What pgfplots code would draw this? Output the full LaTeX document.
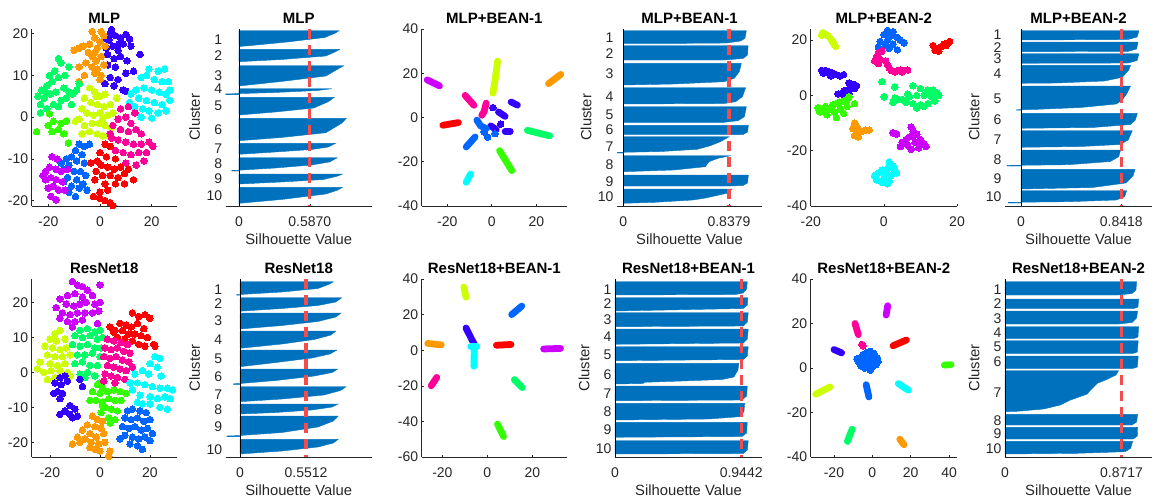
\documentclass[border=0pt]{standalone}
\usepackage{fontspec}
\setmainfont{Liberation Sans}
\usepackage{pgfplots}
\pgfplotsset{compat=1.18}

% hsv(10) cluster colours
\definecolor{c1}{rgb}{1,0,0}
\definecolor{c2}{rgb}{1,0.6,0}
\definecolor{c3}{rgb}{0.8,1,0}
\definecolor{c4}{rgb}{0.2,1,0}
\definecolor{c5}{rgb}{0,1,0.4}
\definecolor{c6}{rgb}{0,1,1}
\definecolor{c7}{rgb}{0,0.4,1}
\definecolor{c8}{rgb}{0.2,0,1}
\definecolor{c9}{rgb}{0.8,0,1}
\definecolor{c10}{rgb}{1,0,0.6}
\definecolor{silblue}{rgb}{0,0.447,0.741}
\definecolor{meanred}{rgb}{0.95,0.3,0.3}
\definecolor{axgray}{rgb}{0.15,0.15,0.15}

\newcommand{\tk}{\fontsize{14}{16}\selectfont}
\newcommand{\lb}{\fontsize{14.8}{17}\selectfont}
\newcommand{\tl}{\fontsize{15}{18}\selectfont\bfseries}

\newcommand{\pts}[2]{\addplot[only marks, mark=*, mark size=3.3pt, color=#1, mark options={line width=0pt}] coordinates {#2};}
\newcommand{\seg}[2]{\addplot[color=#1, line width=6.8pt, line cap=round, line join=round] coordinates {#2};}
\newcommand{\blk}[1]{\addplot[fill=silblue, draw=silblue, line width=0.4pt] coordinates {#1} -- cycle;}
\newcommand{\meanline}[3]{\addplot[meanred, line width=3.2pt, dash pattern=on 10pt off 6pt] coordinates {(#1,#2) (#1,#3)};}
\newcommand{\zeroline}[2]{\addplot[black, line width=0.7pt] coordinates {(0,#1) (0,#2)};}
\newcommand{\ttl}[1]{\node[font=\tl, anchor=base, inner sep=0pt] at ([yshift=6pt]axis description cs:0.5,1) {#1};}

\pgfplotsset{
  panel/.style={scale only axis, anchor=south west,
    axis x line*=bottom, axis y line*=left,
    axis line style={-, draw=axgray, line width=0.6pt},
    tick align=inside, major tick length=2.5pt,
    tick style={axgray, line width=0.6pt},
    ticklabel style={font=\tk, text=axgray},
    xticklabel style={yshift=-7.5pt},
    clip=false},
  sil/.style={panel, y dir=reverse,
    y axis line style={draw=none}, ytick style={draw=none},
    yticklabels={1,2,3,4,5,6,7,8,9,10},
    xlabel={Silhouette Value}, ylabel={Cluster},
    xlabel style={font=\lb, text=axgray, at={(axis description cs:0.5,0)}, anchor=center, yshift=-33pt},
    ylabel style={font=\lb, text=axgray, at={(axis description cs:0,0.5)}, anchor=center, yshift=31pt}},
  row1/.style={height=177pt},
  row2/.style={height=178pt},
}

\begin{document}
\begin{tikzpicture}
\useasboundingbox (0,0) rectangle (1152pt,-500pt);

% ---------------- row 1 ----------------
\begin{axis}[panel, row1, at={(31.7pt,-206pt)}, width=145pt,
  xmin=-26.4, xmax=29.7, ymin=-21.3, ymax=21.1,
  xtick={-20,0,20}, xticklabels={-20,0,20},
  ytick={-20,-10,0,10,20}, yticklabels={-20,-10,0,10,20}]
\ttl{MLP}
\pts{c8}{(4.5,21) (2,19) (3.5,18.5) (6,19.5) (8,19) (10,19.8) (11.5,18.7) (12,17) (9,17.5) (5,17) (2.5,16.5) (7,16) (3,15) (5.5,14) (8,14.5) (10.5,13.5) (15.5,15) (3,12.5) (6,12) (10,10.5) (13,11) (4,9.5) (2,8) (7,9) (9,6.5) (10,6.2) (5.5,7.5) (4,20) (7.5,17.5)}
\pts{c2}{(-3,20.5) (0.5,20.5) (-2,19) (1.5,19.5) (0,18) (2,17) (-1,16.5) (-8,16.5) (-10,16) (-6.5,17) (-4.5,15.5) (-3,14.5) (-1.5,13.5) (0.5,14.5) (-5.5,13) (-3,12) (-1,11.5) (-8,12) (0.5,10) (-2,10.5) (0,9) (-6,10) (-8,8.5) (1.5,12.5) (-4,17.5) (-2,15.5)}
\pts{c5}{(-16,14) (-15,13) (-12,12) (-13.5,10) (-16,9.5) (-18.5,8.5) (-20.5,7.5) (-22.5,6.5) (-24,5) (-21.5,4.5) (-23,3) (-19,5.5) (-17,6) (-14,7) (-12,6) (-10.5,5.5) (-9,6.5) (-8,8) (-15,4) (-18,3) (-20.5,2) (-23,1) (-13,4.5) (-11,3) (-16,2.5) (-17.5,11) (-19.5,10) (-21,6)}
\pts{c4}{(-24.5,-3.5) (-19.5,0.8) (-18,-1) (-16,-3) (-14,-4) (-18.5,-3.5) (-12.2,-6.2) (-15,-1.5) (-13,-1) (-20,-2)}
\pts{c3}{(-4,7) (-2,6) (0,5) (2,5.5) (-6,4.5) (-3.5,3.5) (-1,3) (1.5,2.5) (4,3) (6.5,4.5) (-7,2) (-5,1) (-2.5,0.5) (0,1) (3,0.5) (5,1) (-8,-0.5) (-6,-2) (-3,-1.5) (-0.5,-1.5) (2,-2) (4.5,-2.5) (-4,-3.5) (-1,-4) (1,-4.5) (3.5,-4.5) (-7,-4) (-9.5,-1) (-1.5,5) (1,-0.5)}
\pts{c6}{(19,11.5) (22.5,11) (25,11.5) (16,9.5) (18,10) (21,9) (24,8.5) (26.5,8.5) (14,6.5) (17,7) (20,6.5) (23,6) (25.5,5.5) (12,5.5) (15,4.5) (18,4) (21,3.5) (24,3) (27,4) (13.5,2.5) (16.5,2) (19,1.5) (22.5,1) (25.5,1.5) (16,0) (20,-0.2) (11.5,3.5) (27,6.5)}
\pts{c10}{(8,2) (11,2.5) (13.5,1) (7,-0.5) (10,0) (12,-1.5) (5,-2) (8,-3) (11,-3.5) (14,-3) (16,-4) (4.5,-5) (7,-5.5) (10,-6) (13,-6.5) (16,-6.5) (19,-6) (6,-8) (9,-8.5) (12,-9) (15,-8.5) (18,-8.5) (10,-11) (14,-11.5) (17,-10.5) (4,-4) (20.5,-7)}
\pts{c1}{(2,-6.5) (4,-7) (0,-8.5) (2.5,-9.5) (-1,-10.5) (6,-10) (0.5,-11.5) (3,-12) (5.5,-12.5) (8,-12) (-1.5,-13) (1,-14) (4,-14) (7,-14.5) (9.5,-13.5) (11,-12.5) (-2,-15) (2,-16) (6,-16) (9.5,-16) (0,-18) (3,-17.5) (-2.5,-19) (0,-19.5) (2,-20) (4,-20.5) (5,-21.2) (13,-15) (-3.5,-11)}
\pts{c7}{(-8,-6.5) (-6,-7) (-9.5,-8) (-7,-9) (-11,-9.5) (-13,-10) (-9,-10.5) (-6,-11) (-12,-11.5) (-14,-12.5) (-10,-13) (-7.5,-13) (-5.5,-14) (-12.5,-14.5) (-9,-15) (-6.5,-16) (-11,-16.5) (-8,-17) (-5,-17.5) (-9.5,-19) (-12,-18) (-15,-11) (-4,-6.5) (-14,-15.5)}
\pts{c9}{(-18.5,-9.5) (-16.5,-10) (-19.5,-12) (-17,-12.5) (-21,-13) (-15,-13) (-19,-14.5) (-17,-15) (-21,-15) (-14.5,-15.5) (-18,-16.5) (-20,-17) (-16,-17.5) (-13.5,-17.5) (-19,-19) (-17,-19.8) (-22,-14) (-12.5,-12.5)}
\end{axis}

\begin{axis}[sil, row1, at={(225.7pt,-206pt)}, width=146pt,
  xmin=-0.11, xmax=1.1, ymin=29, ymax=206,
  xtick={0,0.587}, xticklabels={0,0.5870},
  ytick={39.3,56,76,88.5,106,129.3,149,164,179,195.3}]
\ttl{MLP}
\blk{(0,30.7) (0.83,30.7) (0.80,33) (0.71,37.5) (0.40,42) (0.10,45.5) (0,46.5)}
\blk{(0,49.3) (0.835,49.3) (0.80,51.7) (0.72,56) (0.35,59.5) (0,61.7)}
\blk{(0,65.7) (0.87,65.7) (0.83,68.3) (0.72,76) (0.35,81.5) (0,86)}
\blk{(0,88.7) (0.77,88.7) (0.65,90.5) (0.3,92.5) (0,93.6) (-0.11,93.9) (-0.11,94.6) (0,94.6)}
\blk{(0,97.3) (0.79,97.3) (0.74,101.7) (0.62,108) (0.3,112) (0,115)}
\blk{(0,118.3) (0.89,118.3) (0.85,123.3) (0.72,132.7) (0.35,137.5) (0,140.7)}
\blk{(0,143.3) (0.80,143.3) (0.74,147) (0.6,149.5) (0.3,152) (0,154.3)}
\blk{(0,157.7) (0.815,157.7) (0.75,162) (0.6,165) (0.3,168) (0,170.2) (-0.06,170.4) (-0.06,171) (0,171)}
\blk{(0,174) (0.857,174) (0.82,176) (0.7,179.5) (0.35,182) (0,184)}
\blk{(0,187.3) (0.857,187.3) (0.82,190) (0.72,194) (0.35,199.5) (0,203.3)}
\zeroline{29}{206}
\meanline{0.587}{29}{206}
\end{axis}

\begin{axis}[panel, row1, at={(421.7pt,-206pt)}, width=145.3pt,
  xmin=-31.5, xmax=33.8, ymin=-40, ymax=40,
  xtick={-20,0,20}, xticklabels={-20,0,20},
  ytick={-40,-20,0,20,40}, yticklabels={-40,-20,0,20,40}]
\ttl{MLP+BEAN-1}
\seg{c9}{(-29,17) (-23.5,14.3)}
\seg{c3}{(2.6,25.5) (1.5,17) (0.5,11)}
\seg{c2}{(25.5,15.3) (31,19.5)}
\seg{c10}{(-12,10) (-8,5.5)}
\seg{c10}{(-2.5,6.5) (-3.5,2.5) (-4.5,1)}
\seg{c8}{(8.7,7) (11.5,5.6)}
\seg{c8}{(6,-6.3) (8.3,-6.3)}
\seg{c8}{(3,2.5) (6,0.5)}
\seg{c8}{(-0.5,-3.8) (2,-5.5)}
\pts{c8}{(0.5,4.5) (4,-3)}
\seg{c7}{(-7.5,-8.8) (-11.5,-13.3)}
\seg{c7}{(-6.7,-1.2) (-5,-3.8) (-2.5,-5)}
\pts{c7}{(-1.9,-8.8) (1.5,-7.3) (-3.5,-6.5)}
\seg{c1}{(-22,-3.5) (-15,-2.3)}
\seg{c5}{(16,-5.8) (26,-8.3)}
\seg{c4}{(3.5,-15) (9,-24)}
\seg{c6}{(-9.5,-25.5) (-11.5,-29.3)}
\end{axis}

\begin{axis}[sil, row1, at={(617pt,-206pt)}, width=145pt,
  xmin=-0.05, xmax=1.1, ymin=29, ymax=206,
  xtick={0,0.8379}, xticklabels={0,0.8379},
  ytick={37.3,53.3,74,96.7,115,130,146.7,164.3,181.7,196.7}]
\ttl{MLP+BEAN-1}
\blk{(0,30.7) (0.976,30.7) (0.965,38.3) (0.93,41) (0.82,43) (0.5,43.3) (0,43.3)}
\blk{(0,45.7) (0.99,45.7) (0.985,55) (0.95,58.5) (0.8,60) (0,60)}
\blk{(0,63.3) (0.936,63.3) (0.92,71.7) (0.88,78.3) (0.8,81.7) (0.4,84) (0,85)}
\blk{(0,87.7) (0.97,87.7) (0.945,96.7) (0.89,101.7) (0.8,103.5) (0,104)}
\blk{(0,106.7) (0.976,106.7) (0.96,116.7) (0.91,120.7) (0.8,122.3) (0,122.3)}
\blk{(0,125.3) (0.992,125.3) (0.985,132) (0.95,134.5) (0.85,134.7) (0,134.7)}
\blk{(0,136.7) (0.84,136.7) (0.77,141.7) (0.69,145.7) (0.585,149.3) (0.3,151.5) (0,152.3) (-0.05,152.5) (-0.05,153) (0,153)}
\blk{(0,155.7) (0.85,155.7) (0.75,158.3) (0.68,161.7) (0.65,166.7) (0.4,170) (0,171.7)}
\blk{(0,175) (0.992,175) (0.985,183) (0.95,185.5) (0.85,186) (0,186)}
\blk{(0,189) (0.864,189) (0.82,193.3) (0.64,198.3) (0.55,200) (0.25,202.3) (0,203.3)}
\zeroline{29}{206}
\meanline{0.8379}{29}{206}
\end{axis}

\begin{axis}[panel, row1, at={(810.7pt,-206pt)}, width=146.3pt,
  xmin=-20, xmax=20, ymin=-40, ymax=24,
  xtick={-20,0,20}, xticklabels={-20,0,20},
  ytick={-40,-20,0,20}, yticklabels={-40,-20,0,20}]
\ttl{MLP+BEAN-2}
\pts{c3}{(-16.8,22.5) (-16,22.2) (-15.2,21.5) (-14.5,20.5) (-14,19.5) (-13.5,18.5) (-13.2,17.8) (-17,21.8)}
\pts{c7}{(1,23.5) (2.5,23) (0,22) (2,21.5) (3.5,21) (4.5,20) (5.5,19) (1,20) (-1,19.5) (0.5,18) (2.5,18.5) (-1.5,17.5) (3.7,16.5) (1.5,17)}
\pts{c1}{(13.5,18) (14.5,17) (15.5,17.5) (16.5,18.5) (17.5,19) (18,19.5) (15,16) (14,16.3) (17,18) (16,17.8)}
\pts{c10}{(-1.5,15.5) (-0.5,16) (-2,14) (-1,13) (0.5,12.5) (-2.5,12.5) (-1.5,11.5) (1,11) (1.5,10) (2,9) (3.5,8.8) (4.5,9.2) (5.5,9) (6.5,9.2) (3,8.5) (5,8.5)}
\pts{c8}{(-17,9) (-16,9) (-15,8.5) (-14,8) (-13,7.5) (-12,7) (-11,7.5) (-16.5,8) (-14.5,7) (-9.5,4.5) (-8.5,4) (-7.5,3.5) (-9,3) (-10,2) (-11,1.5) (-12.5,0.5) (-11,0.2) (-9.5,0.5) (-8,2.5)}
\pts{c4}{(-18,-4.5) (-17,-5.5) (-16,-4) (-15,-5) (-14,-3.5) (-13,-3) (-12,-2.5) (-11,-2) (-10,-1.5) (-17.5,-6) (-15.5,-7) (-13.5,-6) (-12,-5) (-11,-6.5) (-10,-4) (-13,-8) (-16,-6) (-8,-3) (-9.5,-0.5)}
\pts{c5}{(8,3.5) (10,2.5) (12,2) (13.5,2) (14.5,1) (15,0) (13,-0.5) (11,0) (9,0) (7,-0.5) (5,-1.5) (6,-2.5) (8,-3) (10,-3.5) (12,-3) (14,-2) (9,-4.5) (11,-4) (3,-1) (2.5,-2.5) (0,-0.5) (3,3) (-0.5,5) (4,-1.5) (6.5,0.5) (12.5,0.5)}
\pts{c2}{(-8,-10) (-7.5,-11) (-8.5,-12) (-7.5,-13) (-8,-14.5) (-7,-15) (-6,-13) (-5,-12.5) (-4,-12.5) (-7,-12)}
\pts{c9}{(2.5,-13.5) (3.5,-14) (7.5,-11.5) (8,-13) (9,-14) (7,-15) (6,-16) (5,-17) (4.5,-18.5) (6.5,-18) (8.5,-17) (10,-16) (11,-17.5) (11.5,-18.5) (9.5,-19) (7.5,-19.5) (8,-15) (10,-18)}
\pts{c6}{(1.5,-24) (2.5,-25.5) (3,-27) (1,-26.5) (-0.5,-27) (-1.5,-28) (0.5,-28.5) (2,-29) (-2.5,-29) (0,-30) (1.5,-31) (-0.5,-31.5) (1,-32) (-2,-30.5) (3.5,-28)}
\end{axis}

\begin{axis}[sil, row1, at={(1005pt,-206pt)}, width=147pt,
  xmin=-0.135, xmax=1.1, ymin=29, ymax=206,
  xtick={0,0.8418}, xticklabels={0,0.8418},
  ytick={35,47.3,58.3,74,98.3,120,139.3,159.3,178.3,196.7}]
\ttl{MLP+BEAN-2}
\blk{(0,30.7) (0.99,30.7) (0.975,37) (0.9,39.5) (0,40)}
\blk{(0,42) (0.983,42) (0.97,49) (0.9,51.3) (0,51.7)}
\blk{(0,53.7) (0.99,53.7) (0.975,60.5) (0.9,63) (0,63.3)}
\blk{(0,65.3) (0.92,65.3) (0.905,70) (0.85,77.3) (0.7,81) (0.3,83) (0,83.3)}
\blk{(0,86) (0.92,86) (0.89,93.3) (0.85,100) (0.8,104) (0.5,107.5) (0.1,109.5) (0,109.6) (-0.04,109.8) (-0.04,110.2) (0,110.2)}
\blk{(0,113.3) (0.977,113.3) (0.96,120) (0.92,124.5) (0.6,127.5) (0,128.3)}
\blk{(0,130.7) (0.935,130.7) (0.9,140) (0.83,144.5) (0.5,146.5) (0,147.3)}
\blk{(0,150) (0.836,150) (0.82,156.7) (0.75,161.5) (0.4,164.7) (0,165.3) (-0.12,165.5) (-0.12,166) (0,166)}
\blk{(0,169.3) (0.958,169.3) (0.94,176) (0.88,183) (0.6,187.5) (0,189)}
\blk{(0,190.7) (0.887,190.7) (0.87,196.7) (0.8,200) (0.4,201.7) (0,202.2) (-0.107,202.4) (-0.107,203) (0,203)}
\zeroline{29}{206}
\meanline{0.8418}{29}{206}
\end{axis}

% ---------------- row 2 ----------------
\begin{axis}[panel, row2, at={(31.7pt,-457pt)}, width=145pt,
  xmin=-27.3, xmax=30.7, ymin=-24.2, ymax=26.7,
  xtick={-20,0,20}, xticklabels={-20,0,20},
  ytick={-20,-10,0,10,20}, yticklabels={-20,-10,0,10,20}]
\ttl{ResNet18}
\pts{c9}{(-11,26) (-9,25) (-7,24.5) (-5,23.5) (-3,22) (0,25) (-13,22) (-10,22.5) (-7,21.5) (-16,21) (-13.5,19.5) (-10.5,19) (-8,19.5) (-5.5,20) (-2,19.5) (0,20) (-17.5,18.5) (-15,17) (-12,16.5) (-9,17) (-6,17) (-3,17) (-16,15.5) (-13,14.5) (-10,14.5) (-7,15) (-1,14) (-11,13) (-0.5,17.5)}
\pts{c1}{(13,17) (15.5,16) (18,16.5) (20,15.5) (8,14) (10.5,13.5) (12.5,13) (15,14) (17.5,12.5) (4,13) (6,12) (9,12) (11.5,11) (14,11) (16.5,10.5) (19,10) (21.5,8) (7,10) (10,9.5) (13,9) (15.5,8) (18,7.5) (22,7.5) (11,8) (5.5,11.5)}
\pts{c3}{(-18,11) (-16,12) (-20,9.5) (-17.5,9) (-14,9.5) (-22,7.5) (-19,7) (-16,6.5) (-13.5,7) (-21,5) (-18,4.5) (-15,4.5) (-12,5) (-24,3) (-20,2.5) (-17,2) (-14,2.5) (-25,1) (-22.5,0) (-19.5,0.5) (-16,0.5) (-13,0) (-21,-2) (-18,-1.5) (-12,-1)}
\pts{c5}{(-8,12) (-5,12.5) (-2,11.5) (0,12) (-10,10.5) (-7,10) (-4,10.5) (-1,9.5) (1,10) (-11,8) (-8,7.5) (-5,8) (-2,7) (0.5,7) (-9,5) (-6,5) (-3,5.5) (0,4.5) (-10,2.5) (-7,3) (-4,2) (-1,2) (-5,0) (-2,-1) (0,-3) (-8,-0.5) (-6,-1.5)}
\pts{c10}{(3,9.5) (5.5,9) (8.5,8.5) (11,8) (2,7) (4.5,6.5) (7,7) (9.5,6) (12,5.5) (1.5,4.5) (4,4) (6.5,4.5) (9,3.5) (11.5,3) (3,2) (5.5,1.5) (8,1) (10.5,0.5) (13,1.5) (2,-0.5) (4.5,-1) (7,-1.5) (10,-2) (1.5,-2.5) (6,-3)}
\pts{c6}{(22,4.5) (24,4) (20,2.5) (23,1.5) (17,0.5) (14,-0.5) (19.5,-0.5) (24.5,-1) (12,-3) (15,-3) (18,-3.5) (21,-4) (24,-4.5) (27,-4.5) (29,-5) (16,-6.5) (13,-5) (20,-7) (23,-7.5) (26,-7) (28,-7.5) (17,-9) (20,-9) (24,-10) (27,-10.5) (15,-8.5)}
\pts{c8}{(-16,-1.5) (-14,-1) (-18,-3) (-15.5,-3.5) (-13,-2.5) (-8,-2) (-7,-4) (-17,-5.5) (-15,-6) (-18.5,-6) (-16,-7.5) (-12,-9.5) (-10,-10.5) (-14,-11) (-12,-12) (-9,-12.5) (-16,-12) (-11,-13)}
\pts{c4}{(-1,-3.5) (1,-4.5) (-3,-5.5) (0,-6) (3,-5.5) (5.5,-5) (8,-5.5) (10.5,-6) (-4,-8) (-1.5,-8) (1,-8.5) (3.5,-7.5) (6,-8) (8.5,-8) (2,-10) (4.5,-10.5) (7,-11) (0.5,-11.5) (3.5,-13) (6,-13.5) (4,-14.5) (1,-9.5)}
\pts{c2}{(-3,-12.5) (-1,-13.5) (1,-14) (-5,-15) (-2,-15.5) (0.5,-16) (-7,-16.5) (-4,-17.5) (-1.5,-18.5) (1.5,-17.5) (-9,-18.5) (-6,-19) (-3.5,-20) (-0.5,-20.5) (2,-20) (-11,-20.5) (-2,-22) (0,-22.5) (4,-22.5) (3.5,-24) (-4,-21.5) (-8,-20)}
\pts{c7}{(11,-11) (13,-10.5) (16,-11) (18.5,-11.5) (10,-13) (12.5,-13.5) (15,-13) (17.5,-14) (20,-13.5) (9,-15.5) (11.5,-16) (14,-15.5) (16.5,-16.5) (19,-16) (21,-17.5) (10,-18) (13,-18.5) (15.5,-19) (18,-18.5) (20,-19.5) (12,-20.5) (15,-21) (17,-22) (8,-19)}
\end{axis}

\begin{axis}[sil, row2, at={(225.7pt,-457pt)}, width=146pt,
  xmin=-0.12, xmax=1.1, ymin=279, ymax=457,
  xtick={0,0.5512}, xticklabels={0,0.5512},
  ytick={289.3,304,320.7,340,358.3,376.7,395,409.3,426.7,449.3}]
\ttl{ResNet18}
\blk{(0,281.7) (0.78,281.7) (0.75,284) (0.65,288.5) (0.35,292) (0,294.5) (-0.03,294.7) (-0.03,295.2) (0,295.2)}
\blk{(0,297.7) (0.85,297.7) (0.8,302) (0.65,305.5) (0.35,308.5) (0,311.2)}
\blk{(0,313) (0.844,313) (0.8,317) (0.65,321.5) (0.35,325.5) (0,329)}
\blk{(0,331) (0.80,331) (0.76,335) (0.62,339.5) (0.35,344) (0,348.3)}
\blk{(0,350) (0.81,350) (0.75,354) (0.6,358) (0.3,362.5) (0,366.7)}
\blk{(0,369) (0.816,369) (0.77,372.5) (0.62,376) (0.3,380.5) (0,383.5) (-0.056,383.8) (-0.056,384.4) (0,384.4)}
\blk{(0,386.7) (0.886,386.7) (0.84,390.5) (0.7,395) (0.35,399) (0,401.7)}
\blk{(0,404) (0.82,404) (0.77,407) (0.6,410) (0.3,412.5) (0,414)}
\blk{(0,416) (0.82,416) (0.78,421) (0.65,427) (0.35,432.5) (0,435.5) (-0.11,436) (-0.11,436.6) (0,436.6)}
\blk{(0,439.3) (0.82,439.3) (0.78,443) (0.65,447) (0.35,451) (0,454)}
\zeroline{279}{457}
\meanline{0.5512}{279}{457}
\end{axis}

\begin{axis}[panel, row2, at={(421.7pt,-457pt)}, width=145.3pt,
  xmin=-29.2, xmax=35.4, ymin=-60, ymax=40,
  xtick={-20,0,20}, xticklabels={-20,0,20},
  ytick={-60,-40,-20,0,20,40}, yticklabels={-60,-40,-20,0,20,40}]
\ttl{ResNet18+BEAN-1}
\seg{c3}{(-10.5,35.5) (-9.5,29.8)}
\seg{c7}{(10.8,20) (15.3,24.8)}
\seg{c8}{(-9.5,12.5) (-5.8,3.2)}
\seg{c6}{(-5.8,2) (-6,-9)}
\seg{c6}{(-7.4,2) (-4.7,2)}
\seg{c2}{(-26.5,3.8) (-20.5,3)}
\seg{c1}{(4,2.8) (10.5,3.2)}
\seg{c9}{(25,0.7) (32.5,1)}
\seg{c10}{(-25,-20) (-22.5,-15.3)}
\seg{c5}{(12,-16.5) (15.5,-21)}
\seg{c4}{(4.5,-41.5) (7.2,-48.5)}
\end{axis}

\begin{axis}[sil, row2, at={(615pt,-457pt)}, width=147pt,
  xmin=0, xmax=1.1, ymin=279, ymax=457,
  xtick={0,0.9442}, xticklabels={0,0.9442},
  ytick={289.3,304,319.3,336.7,355,375,393.3,411.7,430,448.3}]
\ttl{ResNet18+BEAN-1}
\blk{(0,281.7) (0.99,281.7) (0.985,289) (0.96,293) (0.9,294.5) (0,295)}
\blk{(0,297.7) (0.994,297.7) (0.99,305) (0.96,308.5) (0,311)}
\blk{(0,312.7) (0.997,312.7) (0.99,322) (0.96,326) (0,326.7)}
\blk{(0,329) (0.997,329) (0.99,339) (0.96,343) (0,344.3)}
\blk{(0,346.7) (0.997,346.7) (0.99,356) (0.96,359.5) (0,360.7)}
\blk{(0,363.3) (0.927,363.3) (0.92,370) (0.89,377) (0.8,379.5) (0.5,381) (0.22,382.3) (0.21,383.5) (0,384)}
\blk{(0,386) (0.99,386) (0.985,396) (0.95,400) (0,400.7)}
\blk{(0,403.3) (0.97,403.3) (0.965,411.7) (0.93,416.7) (0.7,419) (0,420)}
\blk{(0,422.3) (0.99,422.3) (0.985,433) (0.95,436.5) (0,437.3)}
\blk{(0,440.7) (0.997,440.7) (0.99,450) (0.96,453.5) (0,454)}
\zeroline{279}{457}
\meanline{0.9442}{279}{457}
\end{axis}

\begin{axis}[panel, row2, at={(810.7pt,-457pt)}, width=146.3pt,
  xmin=-32.1, xmax=44.1, ymin=-40, ymax=40,
  xtick={-20,0,20,40}, xticklabels={-20,0,20,40},
  ytick={-40,-20,0,20,40}, yticklabels={-40,-20,0,20,40}]
\ttl{ResNet18+BEAN-2}
\seg{c9}{(8,28) (7.2,23.8)}
\seg{c10}{(-9,20) (-7.3,15)}
\pts{c10}{(-5.5,10.6) (-4.8,10)}
\seg{c1}{(10.8,10) (17.8,12.6)}
\seg{c8}{(-20,8.3) (-16,6.8)}
\pts{c7}{(-3,7) (-1,7.5) (1,6.5) (-5,6) (-2,5.5) (0.5,5) (2.5,4.5) (-6.5,4.5) (-4,4) (-1.5,3.5) (1,3) (-8,4) (-5.5,2.5) (-3,2) (-0.5,1.5) (2,1.5) (-6,1) (-4,0) (-2,0) (0,0.5) (-1,-1) (3,3) (-7,2.5)}
\seg{c7}{(-3.2,-7.5) (-1.8,-13)}
\seg{c4}{(37.5,1.3) (41,1.5)}
\seg{c3}{(-29.5,-11.8) (-22,-8.5)}
\seg{c6}{(13.5,-7) (18.8,-10)}
\seg{c5}{(-10.5,-27.5) (-13,-33)}
\seg{c2}{(14.3,-32) (16.5,-34.5)}
\end{axis}

\begin{axis}[sil, row2, at={(1005pt,-457pt)}, width=147pt,
  xmin=0, xmax=1.1, ymin=279, ymax=457,
  xtick={0,0.8717}, xticklabels={0,0.8717},
  ytick={290,304,318.3,332.7,346.7,361.7,392.7,420.7,434,448.3}]
\ttl{ResNet18+BEAN-2}
\blk{(0,281.7) (0.985,281.7) (0.98,290) (0.95,293.5) (0.85,295) (0,295)}
\blk{(0,299) (1.0,299) (0.995,307) (0.97,308.3) (0,308.3)}
\blk{(0,311) (0.992,311) (0.985,318) (0.95,322.5) (0.85,324) (0,324)}
\blk{(0,326.7) (1.0,326.7) (0.995,337) (0.97,338.3) (0,338.3)}
\blk{(0,340.7) (0.997,340.7) (0.99,352) (0.96,353.3) (0,353.3)}
\blk{(0,356) (0.997,356) (0.99,367) (0.96,368.3) (0,368.3)}
\blk{(0,370.7) (0.85,370.7) (0.83,375) (0.766,379.3) (0.69,383.3) (0.64,390) (0.616,394) (0.49,400) (0.414,405) (0.289,409) (0.088,411.3) (0,411.7)}
\blk{(0,414.3) (0.992,414.3) (0.985,422) (0.95,425) (0,425)}
\blk{(0,427.3) (0.992,427.3) (0.99,436) (0.96,439) (0,439)}
\blk{(0,441.3) (0.955,441.3) (0.94,448.3) (0.9,451.7) (0.54,453.3) (0,454)}
\zeroline{279}{457}
\meanline{0.8717}{279}{457}
\end{axis}

\end{tikzpicture}
\end{document}
